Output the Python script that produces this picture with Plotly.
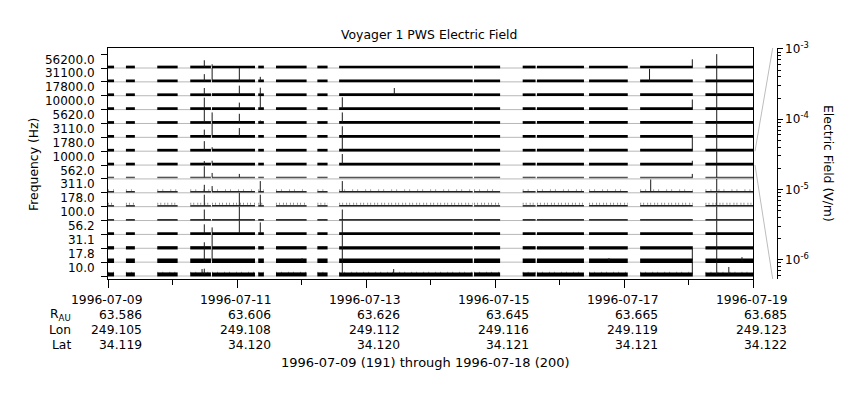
import numpy as np
import plotly.graph_objects as go

# ---------------- data ----------------
freq_labels = ['10.0', '17.8', '31.1', '56.2', '100.0', '178.0', '311.0', '562.0',
               '1000.0', '1780.0', '3110.0', '5620.0', '10000.0', '17800.0', '31100.0', '56200.0']

# data coverage intervals (same for every channel)
seg_start = ['1996-07-09 00:00', '1996-07-09 06:40', '1996-07-09 18:20', '1996-07-10 06:36',
             '1996-07-10 14:42', '1996-07-11 07:54', '1996-07-11 14:30', '1996-07-12 05:54',
             '1996-07-12 14:00', '1996-07-14 16:12', '1996-07-15 10:18', '1996-07-15 15:36',
             '1996-07-16 11:00', '1996-07-17 06:00', '1996-07-18 06:18']
seg_end = ['1996-07-09 02:15', '1996-07-09 10:00', '1996-07-10 01:55', '1996-07-10 14:18',
           '1996-07-11 06:42', '1996-07-11 10:00', '1996-07-12 01:54', '1996-07-12 09:42',
           '1996-07-14 15:42', '1996-07-15 01:54', '1996-07-15 15:06', '1996-07-16 09:06',
           '1996-07-17 01:24', '1996-07-18 01:36', '1996-07-19 00:00']

# typical (noise floor) field per channel, V/m, index 0 = 10 Hz
noise_level = [1.27e-6, 1.14e-6, 6.8e-7, 8.2e-7, 7.5e-7, 8.2e-7, 9.2e-7, 1.2e-6,
               9.2e-7, 9.2e-7, 9.2e-7, 9.2e-7, 9.2e-7, 9.2e-7, 9.2e-7, 9.2e-7]
# typical height of the low-level "grass" on the noisier channels, V/m
grass_chan = [0, 5, 6]
grass_level = [3.0e-6, 2.5e-6, 2.1e-6]

# impulsive events: time, channel index, peak field (V/m)
spike_time = (['1996-07-10 11:50'] * 16 +
              ['1996-07-10 14:45'] * 12 +
              ['1996-07-11 00:52'] * 9 +
              ['1996-07-11 08:40'] * 7 +
              ['1996-07-12 15:11'] * 11 +
              ['1996-07-13 10:32', '1996-07-17 09:30', '1996-07-17 09:56'] +
              ['1996-07-18 01:25'] * 7 +
              ['1996-07-18 10:30'] * 16 +
              ['1996-07-18 19:54', '1996-07-16 18:24', '1996-07-12 00:12',
               '1996-07-18 15:00', '1996-07-13 10:18', '1996-07-10 11:00'])
spike_chan = ([15, 14, 13, 12, 11, 10, 9, 8, 7, 6, 5, 4, 3, 2, 1, 0] +
              [15, 14, 13, 11, 10, 9, 8, 7, 6, 3, 2, 1] +
              [14, 13, 12, 11, 10, 7, 5, 4, 3] +
              [14, 13, 12, 11, 6, 5, 3] +
              [12, 11, 10, 9, 8, 6, 4, 3, 2, 1, 0] +
              [13, 14, 6] +
              [15, 12, 9, 8, 7, 1, 0] +
              list(range(16)) +
              [1, 1, 1, 0, 0, 0])
spike_peak = ([3.6e-5, 3.6e-5, 3.6e-5, 3.7e-4, 8.3e-4, 3.6e-5, 1.3e-4, 4.7e-6,
               5.4e-4, 4.2e-5, 3.7e-4, 2.2e-4, 1.3e-4, 1.4e-5, 1.03e-3, 2.9e-5] +
              [4.0e-6, 1.03e-3, 1.6e-6, 2.2e-4, 1.03e-3, 4.7e-6, 5.6e-6, 1.4e-5,
               2.1e-5, 2.4e-5, 1.03e-3, 1.03e-3] +
              [1.03e-3, 1.3e-4, 2.4e-5, 1.06e-4, 8.5e-5, 8.2e-6, 1.03e-3, 1.03e-3, 1.03e-3] +
              [8.2e-6, 4.2e-5, 1.03e-3, 2.7e-6, 3.2e-4, 3.7e-4, 3.7e-4] +
              [4.4e-4, 2.2e-4, 2.2e-4, 1.03e-3, 2.2e-4, 3.2e-4, 2.2e-4, 1.03e-3,
               1.03e-3, 1.03e-3, 1.03e-3] +
              [3.6e-5, 6.4e-4, 7.6e-4] +
              [6.1e-5, 1.3e-4, 9.4e-4, 5.6e-6, 8.2e-6, 7.6e-4, 1.03e-3] +
              [1.03e-3] * 16 +
              [8.2e-6, 4.7e-6, 4.7e-6, 7.3e-5, 2.4e-5, 2.4e-5])

# x tick annotation table
tick_dates = ['1996-07-09', '1996-07-11', '1996-07-13', '1996-07-15', '1996-07-17', '1996-07-19']
r_au = ['63.586', '63.606', '63.626', '63.645', '63.665', '63.685']
lon = ['249.105', '249.108', '249.112', '249.116', '249.119', '249.123']
lat = ['34.119', '34.120', '34.120', '34.121', '34.121', '34.122']

# electric field scale of one channel band (also the right axis range)
LOG_MIN, LOG_MAX = -6.275, -2.986
REF_CHAN = 8  # band shown by the zoom connector (1000 Hz)

# ---------------- styles ----------------
bar_width = [4.0, 4.5, 3.3, 2.7, 1.8, 1.5, 1.5, 1.5, 2.7, 2.7, 2.7, 2.7, 2.7, 2.7, 2.7, 2.7]
bar_color = ['black', 'black', 'black', 'black', '#333333', '#222222', '#222222', '#555555',
             'black', 'black', 'black', 'black', 'black', 'black', 'black', 'black']
grass_style = [dict(width=2, dash='1px,4px,1px,6px', color='#999999'),
               dict(width=2, dash='1px,2px,1px,3px', color='#909090'),
               dict(width=2, dash='1px,4px,1px,7px', color='#a0a0a0')]
FONT = 'DejaVu Sans'


def band(v):
    return (np.log10(v) - LOG_MIN) / (LOG_MAX - LOG_MIN)


fig = go.Figure()
nchan = len(freq_labels)
x_lo, x_hi = '1996-07-09', '1996-07-19'

# baselines
bx, by = [], []
for i in range(nchan):
    bx += [x_lo, x_hi, None]
    by += [i, i, None]
fig.add_trace(go.Scatter(x=bx, y=by, mode='lines', line=dict(color='#b8b8b8', width=1),
                         hoverinfo='skip', showlegend=False))

for i in range(nchan):
    yb = i + band(noise_level[i])
    xs, ys = [], []
    for s, e in zip(seg_start, seg_end):
        xs += [s, e, None]
        ys += [yb, yb, None]
    if i in grass_chan:
        k = grass_chan.index(i)
        yg = i + band(grass_level[k])
        gys = [yg if v is not None else None for v in ys]
        fig.add_trace(go.Scatter(x=xs, y=gys, mode='lines', line=grass_style[k],
                                 showlegend=False, hoverinfo='skip'))
    fig.add_trace(go.Scatter(x=xs, y=ys, mode='lines',
                             line=dict(color=bar_color[i], width=bar_width[i]),
                             showlegend=False, hoverinfo='skip'))

# spikes
sx, sy = [], []
for t, c, p in zip(spike_time, spike_chan, spike_peak):
    sx += [t, t, None]
    sy += [c + band(noise_level[c]), c + band(p), None]
fig.add_trace(go.Scatter(x=sx, y=sy, mode='lines', line=dict(color='#1a1a1a', width=1),
                         showlegend=False, hoverinfo='skip'))

# dummy trace for right axis
fig.add_trace(go.Scatter(x=[None], y=[None], yaxis='y2', showlegend=False, hoverinfo='skip'))

# ---------------- layout ----------------
# the page body adds an 8 px margin; everything below is laid out in
# reference-picture pixels and shifted by that amount.
OFF = 8
W, H = 860 - OFF, 400 - OFF
L, T = 108 - OFF, 48 - OFF
R, B = 70, 121
pw = W - L - R
ph = H - T - B
x_dom_end = 645 / pw
y2_pos = (776.7 - 108) / pw
y_lo, y_hi = -0.216, 16.442

minor_vals = [k * 10.0 ** e for e in range(-7, -3) for k in range(2, 10)]

fig.update_layout(
    width=W, height=H,
    margin=dict(l=L, r=R, t=T, b=B, pad=0, autoexpand=False),
    paper_bgcolor='white', plot_bgcolor='white',
    font=dict(family=FONT, size=12, color='black'),
    showlegend=False,
    xaxis=dict(type='date', range=[x_lo, x_hi], domain=[0, x_dom_end], automargin=False,
               showline=True, linecolor='black', linewidth=1, mirror=True,
               showgrid=False, zeroline=False, showticklabels=False,
               tickmode='array', tickvals=tick_dates, ticks='outside', ticklen=8,
               tickcolor='black', tickwidth=1,
               minor=dict(tickmode='linear', tick0='1996-07-09', dtick=86400000,
                          ticks='outside', ticklen=5, tickcolor='black', tickwidth=1,
                          showgrid=False)),
    yaxis=dict(range=[y_lo, y_hi], showline=True, linecolor='black', linewidth=1,
               mirror=True, showgrid=False, zeroline=False, automargin=False,
               tickmode='array', tickvals=[i + 0.62 for i in range(nchan)],
               ticktext=freq_labels, ticks='outside', ticklen=10,
               tickcolor='rgba(0,0,0,0)', tickfont=dict(size=12),
               minor=dict(tickmode='linear', tick0=0, dtick=1, ticks='outside',
                          ticklen=6, tickcolor='black', tickwidth=1, showgrid=False)),
    yaxis2=dict(type='log', range=[LOG_MIN, LOG_MAX], overlaying='y', anchor='free',
                position=y2_pos, side='right', showline=True, linecolor='black',
                linewidth=1, showgrid=False, zeroline=False, automargin=False,
                tickmode='array', tickvals=[1e-6, 1e-5, 1e-4, 1e-3],
                ticktext=['10<sup>-6</sup>', '10<sup>-5</sup>', '10<sup>-4</sup>', '10<sup>-3</sup>'],
                ticks='outside', ticklen=5, tickcolor='black', tickfont=dict(size=12),
                minor=dict(tickmode='array', tickvals=minor_vals, ticks='outside',
                           ticklen=3, tickcolor='black', showgrid=False)),
)


def px(xpix):
    return (xpix - 108) / pw


def py(ypix):
    return (279 - ypix) / ph


# connectors from reference band to right axis
fig.add_shape(type='line', xref='paper', yref='y', x0=px(755), y0=REF_CHAN + 1, x1=px(772.7),
              y1=y_hi, line=dict(color='#bdbdbd', width=1))
fig.add_shape(type='line', xref='paper', yref='y', x0=px(755), y0=REF_CHAN, x1=px(772.7),
              y1=y_lo, line=dict(color='#bdbdbd', width=1))

ann = []
ann.append(dict(text='Voyager 1 PWS Electric Field', xref='paper', yref='paper',
                x=px(429), y=py(34), xanchor='center', yanchor='middle', showarrow=False,
                font=dict(size=12.4)))
ann.append(dict(text='Frequency (Hz)', xref='paper', yref='paper', x=px(33), y=py(165),
                textangle=-90, xanchor='center', yanchor='middle', showarrow=False,
                font=dict(size=12.4)))
ann.append(dict(text='Electric Field (V/m)', xref='paper', yref='paper', x=px(829), y=py(163),
                textangle=90, xanchor='center', yanchor='middle', showarrow=False,
                font=dict(size=12.4)))
rows_y = [300, 314.5, 329.5, 344.5]
for d, r, lo, la in zip(tick_dates, r_au, lon, lat):
    for txt, yy in zip([d, r, lo, la], rows_y):
        ann.append(dict(text=txt, x=d, xref='x', yref='paper', y=py(yy), xanchor='right',
                        xshift=35.5, yanchor='middle', showarrow=False, font=dict(size=12.3)))
for txt, yy in zip(['R<sub>AU</sub>', 'Lon', 'Lat'], rows_y[1:]):
    ann.append(dict(text=txt, xref='paper', yref='paper', x=px(72.5), y=py(yy),
                    xanchor='right', yanchor='middle', showarrow=False, font=dict(size=12.3)))
ann.append(dict(text='1996-07-09 (191) through 1996-07-18 (200)', xref='paper', yref='paper',
                x=px(425), y=py(362), xanchor='center', yanchor='middle', showarrow=False,
                font=dict(size=13)))
fig.update_layout(annotations=ann)

fig.write_html('out.html')
